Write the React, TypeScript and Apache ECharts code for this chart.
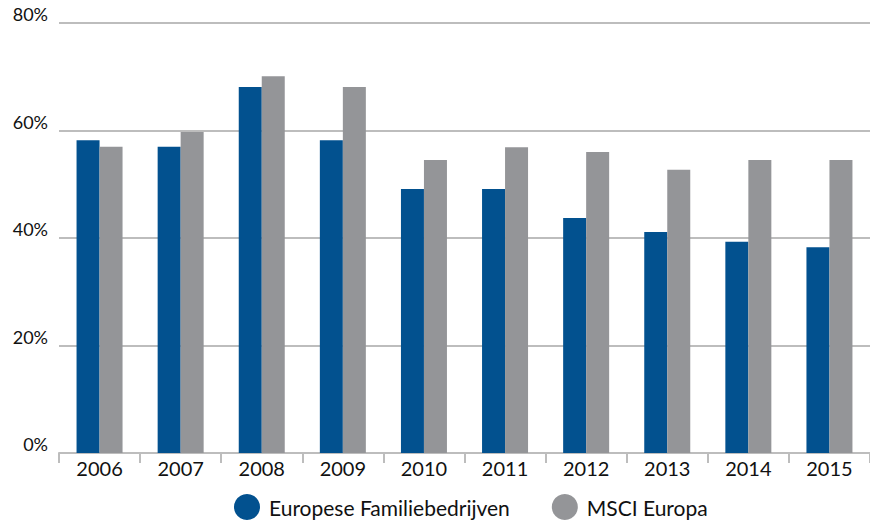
import React, { useEffect, useRef } from "react";
import * as echarts from "echarts";

const years = ["2006", "2007", "2008", "2009", "2010", "2011", "2012", "2013", "2014", "2015"];
const familyFirms = [58.2, 57.0, 68.1, 58.2, 49.1, 49.1, 43.7, 41.1, 39.3, 38.3];
const msciEurope = [57.0, 59.7, 70.1, 68.1, 54.5, 56.9, 56.0, 52.7, 54.5, 54.5];
const seriesNames = ["Europese Familiebedrijven", "MSCI Europa"];

const FONT = "Lato";
const BLUE = "#02518f";
const GREY = "#949598";
const LINE = "#bdbdbd";

export default function App() {
  const ref = useRef<HTMLDivElement>(null);

  useEffect(() => {
    if (!ref.current) return;
    const chart = echarts.init(ref.current, null, { renderer: "svg" });
    chart.setOption({
      animation: false,
      textStyle: { fontFamily: FONT },
      grid: { left: 59, right: -2, top: 23, bottom: 68, containLabel: false },
      legend: {
        left: 234,
        top: 494,
        padding: 0,
        icon: "circle",
        itemWidth: 26,
        itemHeight: 26,
        itemGap: 42,
        textStyle: {
          fontFamily: FONT,
          fontSize: 21,
          color: "#111",
          padding: [0, 0, 0, 4],
        },
        data: seriesNames,
      },
      xAxis: {
        type: "category",
        data: years,
        axisLine: { show: true, lineStyle: { color: LINE, width: 2 } },
        axisTick: { show: true, length: 10, lineStyle: { color: LINE, width: 2 } },
        axisLabel: { fontFamily: FONT, fontSize: 20, color: "#111", margin: 5 },
      },
      yAxis: {
        type: "value",
        min: 0,
        max: 80,
        interval: 20,
        axisLine: { show: false },
        axisTick: { show: false },
        splitLine: { lineStyle: { color: LINE, width: 2 } },
        axisLabel: {
          fontFamily: FONT,
          fontSize: 18,
          color: "#111",
          margin: 11,
          verticalAlign: "bottom",
          formatter: (v: number) => `${v}%`,
        },
      },
      series: [
        {
          name: seriesNames[0],
          type: "bar",
          data: familyFirms,
          barWidth: 23,
          barGap: "0%",
          itemStyle: { color: BLUE },
        },
        {
          name: seriesNames[1],
          type: "bar",
          data: msciEurope,
          barWidth: 23,
          barGap: "0%",
          itemStyle: { color: GREY },
        },
      ],
    });
    return () => chart.dispose();
  }, []);

  return (
    <div
      ref={ref}
      style={{ position: "fixed", left: 0, top: 0, width: 870, height: 521, background: "#fff" }}
    />
  );
}
